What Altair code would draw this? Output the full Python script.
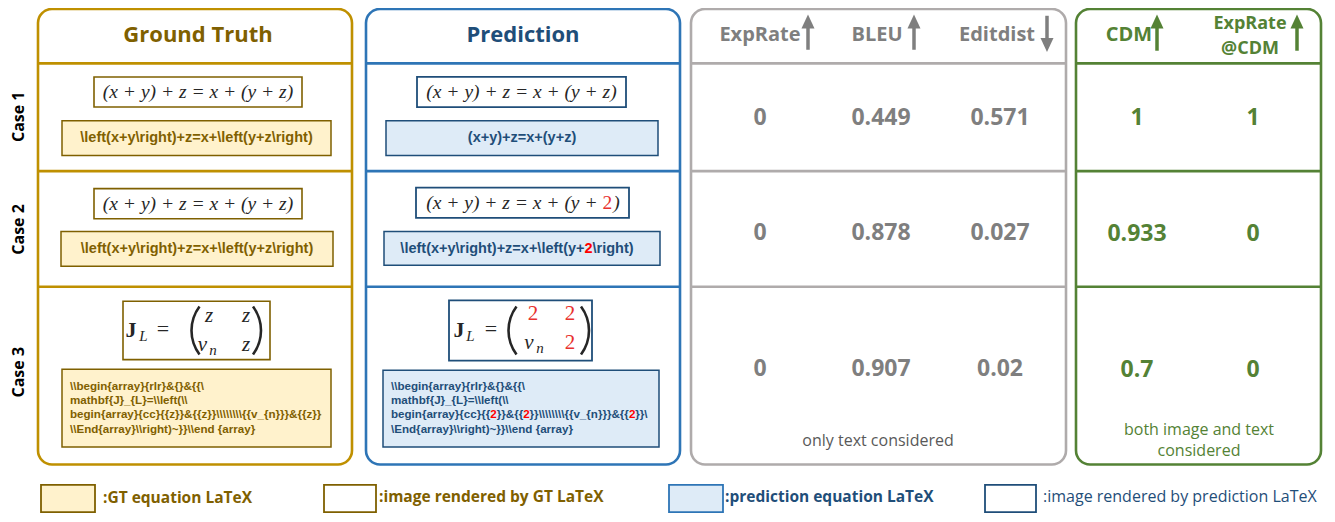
import math
import altair as alt
import pandas as pd

# ------------------------------------------------------------------ data
cases = ["Case 1", "Case 2", "Case 3"]
panel_titles = ["Ground Truth", "Prediction"]
metric_headers = ["ExpRate", "BLEU", "Editdist"]
metric_better = ["up", "up", "down"]
cdm_headers = ["CDM", "ExpRate\n@CDM"]
cdm_better = ["up", "up"]
exprate = ["0", "0", "0"]
bleu = ["0.449", "0.878", "0.907"]
editdist = ["0.571", "0.027", "0.02"]
cdm = ["1", "0.933", "0.7"]
exprate_cdm = ["1", "0", "0"]
notes = ["only text considered", "both image and text\nconsidered"]

gt_latex_short = [
    "\\left(x+y\\right)+z=x+\\left(y+z\\right)",
    "\\left(x+y\\right)+z=x+\\left(y+z\\right)",
]
pred_latex_short = [
    "(x+y)+z=x+(y+z)",
    "\\left(x+y\\right)+z=x+\\left(y+2\\right)",
]
gt_latex_case3 = [
    "\\\\begin{array}{rlr}&{}&{{\\",
    "mathbf{J}_{L}=\\\\left(\\\\",
    "begin{array}{cc}{{z}}&{{z}}" + "\\" * 8 + "{{v_{n}}}&{{z}}",
    "\\\\End{array}\\\\right)~}}\\\\end {array}",
]
pred_latex_case3 = [
    "\\\\begin{array}{rlr}&{}&{{\\",
    "mathbf{J}_{L}=\\\\left(\\\\",
    "begin{array}{cc}{{2}}&{{2}}" + "\\" * 8 + "{{v_{n}}}&{{2}}\\",
    "\\End{array}\\\\right)~}}\\\\end {array}",
]
gt_render_short = ["(x + y) + z = x + (y + z)", "(x + y) + z = x + (y + z)"]
pred_render_short = ["(x + y) + z = x + (y + z)", "(x + y) + z = x + (y + 2)"]
gt_matrix = [["z", "z"], ["v", "z"]]
pred_matrix = [["2", "2"], ["v", "2"]]
wrong_token = "2"

legend_labels = [":GT equation LaTeX", ":image rendered by GT LaTeX",
                 ":prediction equation LaTeX", ":image rendered by prediction LaTeX"]

# ------------------------------------------------------------------ layout / style
W, H = 1319, 506
xs = alt.Scale(domain=[8, 1327], nice=False, zero=False)
ys = alt.Scale(domain=[0, 521], nice=False, zero=False, reverse=True)

FONT = "Open Sans"
CODE = "Liberation Sans"
SERIF = "Liberation Serif"
GOLD, GOLD_D, GOLD_F = "#BF9000", "#7F6000", "#FFF2CC"
BLUE, BLUE_D, BLUE_F = "#2E75B6", "#1F4E79", "#DEEBF7"
GRAY, GRAY_T, GRAY_N = "#AFABAB", "#7F7F7F", "#595959"
GREEN = "#548235"
RED, RED_M = "#FF0000", "#E8312F"
INK = "#262626"

# advance widths (1/1000 em) used to place the coloured runs of a string
SANS_BOLD_W = {" ": 278, "(": 333, ")": 333, "+": 584, "=": 584, "\\": 278, "{": 389, "}": 389,
               "&": 722, "_": 556, "~": 584, ".": 278, "a": 556, "b": 611, "c": 556, "d": 611,
               "e": 556, "f": 333, "g": 611, "h": 611, "i": 278, "j": 278, "k": 556, "l": 278,
               "m": 889, "n": 611, "o": 611, "p": 611, "q": 611, "r": 389, "s": 556, "t": 333,
               "u": 611, "v": 556, "w": 778, "x": 556, "y": 556, "z": 500, "E": 667, "J": 556,
               "L": 611}
SERIF_IT_W = {" ": 250, "(": 333, ")": 333, "+": 675, "=": 675, "x": 444, "y": 444, "z": 389}

TOP, HEAD, R1, R2, BOT = 1, 57, 168, 287, 470
P_GT, P_PR, P_MET, P_CDM = (38, 352), (366, 680), (691, 1066), (1076, 1321)


def X(f):
    return alt.X(f"{f}:Q", scale=xs, axis=None)


def Y(f):
    return alt.Y(f"{f}:Q", scale=ys, axis=None)


def rect_layer(rows, **mk):
    df = pd.DataFrame(rows, columns=["x0", "y0", "x1", "y1"])
    return alt.Chart(df).mark_rect(**mk).encode(x=X("x0"), x2="x1:Q", y=Y("y0"), y2="y1:Q")


def hline_layer(rows, **mk):
    df = pd.DataFrame(rows, columns=["x0", "x1", "y"])
    return alt.Chart(df).mark_rule(**mk).encode(x=X("x0"), x2="x1:Q", y=Y("y"))


def vline_layer(rows, **mk):
    df = pd.DataFrame(rows, columns=["x", "y0", "y1"])
    return alt.Chart(df).mark_rule(**mk).encode(x=X("x"), y=Y("y0"), y2="y1:Q")


def point_layer(rows, **mk):
    df = pd.DataFrame(rows, columns=["x", "y"])
    return alt.Chart(df).mark_point(**mk).encode(x=X("x"), y=Y("y"))


def text_layer(rows, **mk):
    df = pd.DataFrame(rows, columns=["x", "y", "t", "c"])
    return alt.Chart(df).mark_text(**mk).encode(
        x=X("x"), y=Y("y"), text="t:N", color=alt.Color("c:N", scale=None))


def lines(x, y0, step, s, color):
    return [(x, y0 + i * step, part, color) for i, part in enumerate(s.split("\n"))]


def arc_layer(rows, R, t0, t1, color):
    df = pd.DataFrame(rows, columns=["x", "y"])
    return alt.Chart(df).mark_arc(radius=R + 1.3, radius2=R - 1.3, theta=t0, theta2=t1,
                                  color=color).encode(x=X("x"), y=Y("y"))


def text_w(s, table, size):
    return sum(table.get(ch, 556) for ch in s) * size / 1000.0


def runs(s):
    out = []
    for ch in s:
        w = ch == wrong_token
        if out and out[-1][1] == w:
            out[-1][0] += ch
        else:
            out.append([ch, w])
    return out


def place(s, x_left, y, table, size, base, red):
    b, r = [], []
    off = 0.0
    for t, w in runs(s):
        (r if w else b).append((x_left + off, y, t, red if w else base))
        off += text_w(t, table, size)
    return b, r


layers = []

# outer panels
for (x0, x1), col in [(P_GT, GOLD), (P_PR, BLUE), (P_MET, GRAY), (P_CDM, GREEN)]:
    layers.append(rect_layer([(x0, TOP, x1, BOT)], fill="white", stroke=col,
                             strokeWidth=2.6, cornerRadius=14))
    layers.append(hline_layer([(x0, x1, HEAD), (x0, x1, R1), (x0, x1, R2)],
                              color=col, strokeWidth=2.6))

# rendered-image boxes
layers.append(rect_layer([(94, 71, 302, 102), (94, 186, 302, 217), (123, 302, 270, 362)],
                         fill="white", stroke=GOLD_D, strokeWidth=1.6))
layers.append(rect_layer([(417, 71, 626, 102), (416, 185, 629, 216), (449, 301, 592, 363)],
                         fill="white", stroke=BLUE_D, strokeWidth=1.8))
# LaTeX code boxes
layers.append(rect_layer([(62, 116, 331, 152), (61, 230, 333, 266), (62, 372, 331, 452)],
                         fill=GOLD_F, stroke=GOLD_D, strokeWidth=1.5))
layers.append(rect_layer([(386, 116, 658, 152), (384, 230, 660, 265), (383, 373, 659, 452)],
                         fill=BLUE_F, stroke=BLUE_D, strokeWidth=1.5))

# legend boxes
layers.append(rect_layer([(41, 491, 95, 519)], fill=GOLD_F, stroke=GOLD_D, strokeWidth=1.8))
layers.append(rect_layer([(324, 491, 376, 519)], fill="white", stroke=GOLD_D, strokeWidth=1.8))
layers.append(rect_layer([(669, 491, 723, 519)], fill=BLUE_F, stroke=BLUE, strokeWidth=1.8))
layers.append(rect_layer([(985, 491, 1036, 519)], fill="white", stroke=BLUE_D, strokeWidth=1.8))

# titles
layers.append(text_layer([(198, 28, panel_titles[0], GOLD_D), (523, 28, panel_titles[1], BLUE_D)],
                         font=FONT, fontSize=22, fontWeight="bold"))
# case labels
layers.append(text_layer([(19, y, c, "#000000") for y, c in zip([112, 228, 375], cases)],
                         font=FONT, fontSize=16, fontWeight="bold", angle=270))

# metric headers + arrows
UP = "M0,-1L0.93,1L-0.93,1Z"
DOWN = "M0,1L0.93,-1L-0.93,-1Z"
hdr_rows, shafts, heads_up, heads_dn = [], [], [], []
for name, cx, ax, d in zip(metric_headers, [760, 877, 997], [808, 914, 1047], metric_better):
    hdr_rows.append((cx, 28, name, GRAY_T))
    if d == "up":
        shafts.append((ax, 19, 43))
        heads_up.append((ax, 14))
    else:
        shafts.append((ax, 8, 33))
        heads_dn.append((ax, 38))
layers.append(text_layer(hdr_rows, font=FONT, fontSize=20, fontWeight="bold"))
layers.append(vline_layer(shafts, color=GRAY_T, strokeWidth=3.5))
if heads_up:
    layers.append(point_layer(heads_up, shape=UP, filled=True, size=196, color=GRAY_T, opacity=1))
if heads_dn:
    layers.append(point_layer(heads_dn, shape=DOWN, filled=True, size=196, color=GRAY_T, opacity=1))

layers.append(text_layer([(1129, 28, cdm_headers[0], GREEN)], font=FONT, fontSize=20, fontWeight="bold"))
layers.append(text_layer(lines(1250, 16, 26, cdm_headers[1], GREEN), font=FONT, fontSize=18,
                         fontWeight="bold"))
g_sh, g_hd = [], []
for ax, d in zip([1157, 1297], cdm_better):
    g_sh.append((ax, 19, 44))
    g_hd.append((ax, 14))
layers.append(vline_layer(g_sh, color=GREEN, strokeWidth=3.5))
layers.append(point_layer(g_hd, shape=UP, filled=True, size=196, color=GREEN, opacity=1))

# metric values
row_y = [113, 232, 372]
val_rows = []
for vals, cx in zip([exprate, bleu, editdist], [760, 881, 1000]):
    for v, y in zip(vals, row_y):
        val_rows.append((cx, y, v, GRAY_T))
for vals, cx in zip([cdm, exprate_cdm], [1137, 1253]):
    for v, y in zip(vals, [113, 233, 373]):
        val_rows.append((cx, y, v, GREEN))
layers.append(text_layer(val_rows, font=FONT, fontSize=23, fontWeight="bold"))

# footnotes
note_rows = [(878, 446, notes[0], GRAY_N)] + lines(1199, 435, 21, notes[1], GREEN)
layers.append(text_layer(note_rows, font=FONT, fontSize=16))

# rendered formulas, cases 1-2
FS_F = 19.5
layers.append(text_layer([(198, 87, gt_render_short[0], INK), (198, 202, gt_render_short[1], INK),
                          (521.5, 87, pred_render_short[0], INK)],
                         font=SERIF, fontSize=FS_F, fontStyle="italic"))
s = pred_render_short[1]
b, r = place(s, 523 - text_w(s, SERIF_IT_W, FS_F) / 2, 201, SERIF_IT_W, FS_F, INK, RED_M)
layers.append(text_layer(b, font=SERIF, fontSize=FS_F, fontStyle="italic", align="left"))
layers.append(text_layer(r, font=SERIF, fontSize=FS_F, align="left"))

# rendered matrix formulas, case 3
layers.append(text_layer([(131, 332, "J", INK), (459, 332, "J", INK)],
                         font=SERIF, fontSize=22, fontWeight="bold"))
layers.append(text_layer([(143.5, 338, "L", INK), (470.5, 338, "L", INK),
                          (213, 352, "n", INK), (540, 350, "n", INK)],
                         font=SERIF, fontSize=15, fontStyle="italic"))
layers.append(text_layer([(163, 331, "=", INK), (491, 331, "=", INK)],
                         font=SERIF, fontSize=22))
m_rows_it, m_rows_up = [], []
for mat, pos in [(gt_matrix, [[(209, 317), (246, 317)], [(202.5, 347), (246, 347)]]),
                 (pred_matrix, [[(533, 315), (570, 315)], [(529, 345), (570, 345)]])]:
    for ri in range(2):
        for ci in range(2):
            ent = mat[ri][ci]
            px, py = pos[ri][ci]
            if ent == wrong_token:
                m_rows_up.append((px, py, ent, RED_M))
            else:
                m_rows_it.append((px, py, ent, INK))
layers.append(text_layer(m_rows_it, font=SERIF, fontSize=21, fontStyle="italic"))
layers.append(text_layer(m_rows_up, font=SERIF, fontSize=21))
PR_R = 40
half = math.asin(24 / PR_R)
layers.append(arc_layer([(231.5, 332), (548.5, 332)], PR_R, 1.5 * math.pi - half, 1.5 * math.pi + half, INK))
layers.append(arc_layer([(221, 332), (549, 332)], PR_R, 0.5 * math.pi - half, 0.5 * math.pi + half, INK))

# LaTeX code, cases 1-2
FS_C = 14.5
layers.append(text_layer([(196.5, 134, gt_latex_short[0], GOLD_D), (197, 248, gt_latex_short[1], GOLD_D)],
                         font=CODE, fontSize=FS_C, fontWeight="bold"))
layers.append(text_layer([(522, 134, pred_latex_short[0], BLUE_D)],
                         font=CODE, fontSize=FS_C, fontWeight="bold"))
s = pred_latex_short[1]
b, r = place(s, 517 - text_w(s, SANS_BOLD_W, FS_C) / 2, 248, SANS_BOLD_W, FS_C, BLUE_D, RED)
code_rows = b + r

# LaTeX code, case 3
FS_C3 = 11.6
line_y = [390, 405, 419.5, 434]
code3 = [(70, y, t, GOLD_D) for y, t in zip(line_y, gt_latex_case3)]
for y, t in zip(line_y, pred_latex_case3):
    b3, r3 = place(t, 391, y, SANS_BOLD_W, FS_C3, BLUE_D, RED)
    code3 += b3 + r3
layers.append(text_layer(code_rows, font=CODE, fontSize=FS_C, fontWeight="bold", align="left"))
layers.append(text_layer(code3, font=CODE, fontSize=FS_C3, fontWeight="bold", align="left"))

# legend labels
layers.append(text_layer([(103, 505, legend_labels[0], GOLD_D), (379, 504, legend_labels[1], GOLD_D),
                          (725, 504, legend_labels[2], BLUE_D)],
                         font=FONT, fontSize=15.5, fontWeight="bold", align="left"))
layers.append(text_layer([(1043, 504, legend_labels[3], BLUE_D)],
                         font=FONT, fontSize=16, align="left"))

chart = alt.layer(*layers).properties(
    width=W, height=H, padding=0, autosize=alt.AutoSizeParams(type="none"),
    background="white",
).configure_view(strokeWidth=0)

chart.save("out.html", embed_options={"renderer": "svg", "actions": False})
